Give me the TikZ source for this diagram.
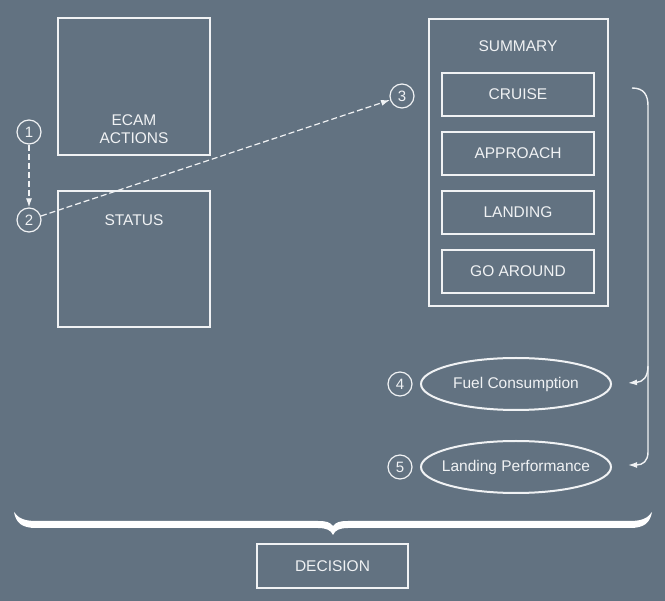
\documentclass[tikz,border=0pt]{standalone}
\usepackage{fontspec}
\setmainfont{Liberation Sans}
\usetikzlibrary{arrows.meta,shapes.geometric}
\definecolor{bg}{RGB}{98,114,129}
\definecolor{fg}{RGB}{240,242,244}
\tikzset{
  box/.style={draw=fg,line width=1.8pt,rectangle,inner sep=0pt},
  subbox/.style={draw=fg,line width=1.4pt,rectangle,inner sep=0pt,minimum width=152pt,minimum height=43pt,text=fg,font=\fontsize{15.5}{18}\selectfont},
  txt/.style={text=fg,font=\fontsize{15.5}{18}\selectfont,inner sep=0pt,align=center},
  num/.style={draw=fg,line width=1.2pt,circle,minimum size=24pt,inner sep=0pt,text=fg,font=\fontsize{15}{16}\selectfont},
  oval/.style={draw=fg,line width=2pt,ellipse,minimum width=190pt,minimum height=52pt,inner sep=0pt,text=fg,font=\fontsize{15.5}{18}\selectfont},
  dasharrow/.style={draw=fg,line width=1.2pt,dash pattern=on 6pt off 3pt,-{Latex[length=9pt,width=6pt]}},
  flowarrow/.style={draw=fg,line width=1.4pt,-{Latex[length=9pt,width=6pt]}},
}
\begin{document}
\begin{tikzpicture}[x=1pt,y=-1pt]
\fill[bg] (0,0) rectangle (665,601);
\useasboundingbox (0,0) rectangle (665,601);
% left boxes
\node[box,minimum width=152pt,minimum height=137pt] (ecam) at (134,86.5) {};
\node[txt] (ecamtxt) at (134,129) {ECAM\\ACTIONS};
\node[box,minimum width=152pt,minimum height=136pt] (status) at (134,259) {};
\node[txt] (statustxt) at (134,220) {STATUS};
% summary
\node[box,line width=1.4pt,minimum width=179pt,minimum height=287pt] (summary) at (518.5,162.5) {};
\node[txt] (summarytxt) at (518,46) {SUMMARY};
\node[subbox,line width=2.5pt] (cruise) at (518,94.5) {CRUISE};
\node[subbox] (approach) at (518,153.5) {APPROACH};
\node[subbox] (landing) at (518,212.5) {LANDING};
\node[subbox] (goaround) at (518,271.5) {GO AROUND};
% numbers
\node[num] (n1) at (29,132) {1};
\node[num] (n2) at (29,220) {2};
\node[num] (n3) at (402,96) {3};
\node[num] (n4) at (400,384) {4};
\node[num] (n5) at (400,467) {5};
% ellipses
\node[oval] (fuel) at (516,384) {\makebox[110pt]{Fuel Consumption}};
\node[oval] (perf) at (516,467) {\makebox[110pt]{Landing Performance}};
% dashed arrows
\draw[dasharrow] (n1) -- (n2);
\draw[dasharrow] (n2) -- (n3);
% right bracket
\coordinate (bstart) at (632,88);
\coordinate (a4) at (628,383);
\coordinate (a5) at (628,465);
\draw[flowarrow] (bstart) .. controls (644,88) and (648,95) .. (648,106) -- (648,452) .. controls (648,461) and (643,465) .. (a5);
\draw[flowarrow] (648,366) .. controls (648,377) and (643,382) .. (a4);
% brace
\fill[white] (14,512) .. controls (16,523) and (22,528) .. (36,528) -- (318,528)
  .. controls (326,528) and (331,530) .. (333,535)
  .. controls (335,530) and (340,528) .. (348,528) -- (630,528)
  .. controls (644,528) and (650,523) .. (652,512)
  .. controls (648,518) and (642,521) .. (630,521) -- (348,521)
  .. controls (340,521) and (336,522) .. (333,526)
  .. controls (330,522) and (326,521) .. (318,521) -- (36,521)
  .. controls (24,521) and (18,518) .. (14,512) -- cycle;
% decision
\node[subbox,line width=1.4pt,minimum width=151pt,minimum height=44pt] (decision) at (332.5,566) {DECISION};
\end{tikzpicture}
\end{document}
